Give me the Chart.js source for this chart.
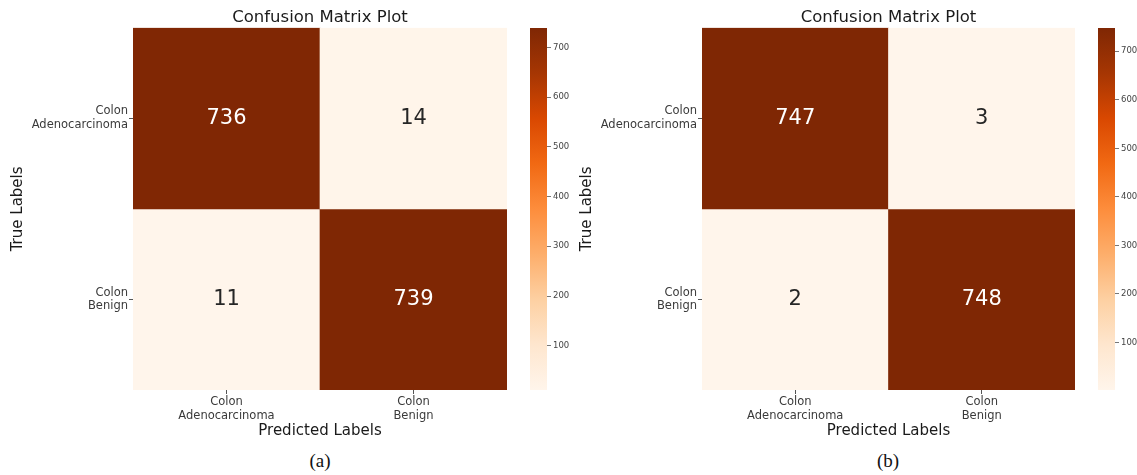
<!DOCTYPE html>
<html>
<head>
<meta charset="utf-8">
<title>Confusion Matrix Plots</title>
<script src="https://cdn.jsdelivr.net/npm/chart.js@4.4.1/dist/chart.umd.min.js"></script>
<style>
    html, body { margin: 0; padding: 0; background: #fff; }
    #page { position: relative; width: 1137px; height: 475px; overflow: hidden; }
    .box { position: absolute; }
    .caption {
        position: absolute; top: 449px; width: 60px; line-height: 24px;
        text-align: center; font-family: 'Liberation Serif', serif; font-size: 19px; color: #111;
    }
</style>
</head>
<body>
<div id="page">
    <div class="box" style="left:0;top:0;width:520px;height:445px"><canvas id="matrixA"></canvas></div>
    <div class="box" style="left:530px;top:0;width:40px;height:400px"><canvas id="colorbarA"></canvas></div>
    <div class="caption" style="left:290px">(a)</div>

    <div class="box" style="left:569px;top:0;width:519px;height:445px"><canvas id="matrixB"></canvas></div>
    <div class="box" style="left:1098px;top:0;width:40px;height:400px"><canvas id="colorbarB"></canvas></div>
    <div class="caption" style="left:858px">(b)</div>
</div>

<script>
// class names (rows = true label, columns = predicted label)
const classLabels = [['Colon', 'Adenocarcinoma'], ['Colon', 'Benign']];
const matrixA = [[736, 14], [11, 739]];
const matrixB = [[747, 3], [2, 748]];
const colorbarTicks = [100, 200, 300, 400, 500, 600, 700];

// matplotlib "Oranges" colormap
const ORANGES = ['#fff5eb', '#fee6ce', '#fdd0a2', '#fdae6b', '#fd8d3c', '#f16913', '#d94801', '#a63603', '#7f2704'];

Chart.defaults.font.family = "'DejaVu Sans', sans-serif";
Chart.defaults.color = '#3a3a3a';

function hexToRgb(hex) {
    const n = parseInt(hex.slice(1), 16);
    return [(n >> 16) & 255, (n >> 8) & 255, n & 255];
}

function orangeAt(t) {
    t = Math.max(0, Math.min(1, t));
    const pos = t * (ORANGES.length - 1);
    const i = Math.min(Math.floor(pos), ORANGES.length - 2);
    const f = pos - i;
    const a = hexToRgb(ORANGES[i]);
    const b = hexToRgb(ORANGES[i + 1]);
    const c = a.map((v, k) => Math.round(v + (b[k] - v) * f));
    return `rgb(${c[0]}, ${c[1]}, ${c[2]})`;
}

function luminance(rgbStr) {
    const [r, g, b] = rgbStr.match(/\d+/g).map(v => {
        v = v / 255;
        return v <= 0.03928 ? v / 12.92 : Math.pow((v + 0.055) / 1.055, 2.4);
    });
    return 0.2126 * r + 0.7152 * g + 0.0722 * b;
}

// writes the count in the middle of every cell
const cellValues = {
    id: 'cellValues',
    afterDatasetsDraw(chart, args, opts) {
        const { ctx } = chart;
        ctx.save();
        ctx.font = "21px 'DejaVu Sans'";
        ctx.textAlign = 'center';
        ctx.textBaseline = 'middle';
        chart.data.datasets.forEach((ds, i) => {
            chart.getDatasetMeta(i).data.forEach((bar, j) => {
                const fill = ds.backgroundColor[j];
                ctx.fillStyle = luminance(fill) < 0.408 ? '#ffffff' : '#262626';
                ctx.fillText(String(opts.matrix[i][j]), bar.x, (bar.y + bar.base) / 2);
            });
        });
        ctx.restore();
    }
};

function valueRange(matrix) {
    const flat = matrix.flat();
    return [Math.min(...flat), Math.max(...flat)];
}

function drawMatrix(canvasId, matrix) {
    const [vmin, vmax] = valueRange(matrix);

    // one floating bar per cell, row i spans [i, i + 1] on the y scale
    const datasets = matrix.map((row, i) => ({
        label: classLabels[i].join(' '),
        data: row.map(() => [i, i + 1]),
        backgroundColor: row.map(v => orangeAt((v - vmin) / (vmax - vmin))),
        borderWidth: 0,
        grouped: false,
        barPercentage: 1,
        categoryPercentage: 1
    }));

    return new Chart(document.getElementById(canvasId), {
        type: 'bar',
        data: { labels: classLabels, datasets },
        options: {
            animation: false,
            responsive: true,
            maintainAspectRatio: false,
            layout: { padding: { right: 13 } },
            plugins: {
                legend: { display: false },
                tooltip: { enabled: false },
                title: {
                    display: true,
                    text: 'Confusion Matrix Plot',
                    fullSize: false,
                    color: '#1a1a1a',
                    font: { size: 16.5, weight: 'normal' },
                    padding: { top: 8, bottom: 0 }
                },
                cellValues: { matrix }
            },
            scales: {
                x: {
                    grid: { offset: false, drawOnChartArea: false, tickLength: 4, color: '#555' },
                    border: { display: false },
                    ticks: { font: { size: 11.5 }, padding: 1, maxRotation: 0 },
                    title: {
                        display: true,
                        text: 'Predicted Labels',
                        color: '#1a1a1a',
                        font: { size: 15 },
                        padding: { top: 0, bottom: 5 }
                    },
                    afterFit: scale => { scale.height = 55; }
                },
                y: {
                    min: 0,
                    max: 2,
                    reverse: true,
                    afterBuildTicks: scale => {
                        scale.ticks = classLabels.map((_, i) => ({ value: i + 0.5 }));
                    },
                    grid: { drawOnChartArea: false, tickLength: 4, color: '#555' },
                    border: { display: false },
                    ticks: {
                        font: { size: 11.5 },
                        padding: 1,
                        callback: value => classLabels[Math.floor(value)]
                    },
                    title: {
                        display: true,
                        text: 'True Labels',
                        color: '#1a1a1a',
                        font: { size: 15 },
                        padding: { top: 9, bottom: 0 }
                    },
                    afterFit: scale => { scale.width = 133; }
                }
            }
        },
        plugins: [cellValues]
    });
}

function drawColorbar(canvasId, matrix) {
    const [vmin, vmax] = valueRange(matrix);

    return new Chart(document.getElementById(canvasId), {
        type: 'bar',
        data: {
            labels: [''],
            datasets: [{
                data: [[vmin, vmax]],
                backgroundColor: context => {
                    const { ctx, chartArea, scales } = context.chart;
                    if (!chartArea) return ORANGES[4];
                    const g = ctx.createLinearGradient(0, scales.y.getPixelForValue(vmin), 0, scales.y.getPixelForValue(vmax));
                    ORANGES.forEach((c, k) => g.addColorStop(k / (ORANGES.length - 1), c));
                    return g;
                },
                borderWidth: 0,
                barPercentage: 1,
                categoryPercentage: 1
            }]
        },
        options: {
            animation: false,
            responsive: true,
            maintainAspectRatio: false,
            layout: { padding: { top: 28, bottom: 10 } },
            plugins: { legend: { display: false }, tooltip: { enabled: false } },
            scales: {
                x: { display: false },
                y: {
                    position: 'right',
                    min: vmin,
                    max: vmax,
                    afterBuildTicks: scale => {
                        scale.ticks = colorbarTicks.map(v => ({ value: v }));
                    },
                    grid: { drawOnChartArea: false, tickLength: 4, color: '#777' },
                    border: { display: false },
                    ticks: { font: { size: 8.5 }, padding: 2, color: '#444' },
                    afterFit: scale => { scale.width = 23; }
                }
            }
        }
    });
}

drawMatrix('matrixA', matrixA);
drawColorbar('colorbarA', matrixA);
drawMatrix('matrixB', matrixB);
drawColorbar('colorbarB', matrixB);
</script>
</body>
</html>
